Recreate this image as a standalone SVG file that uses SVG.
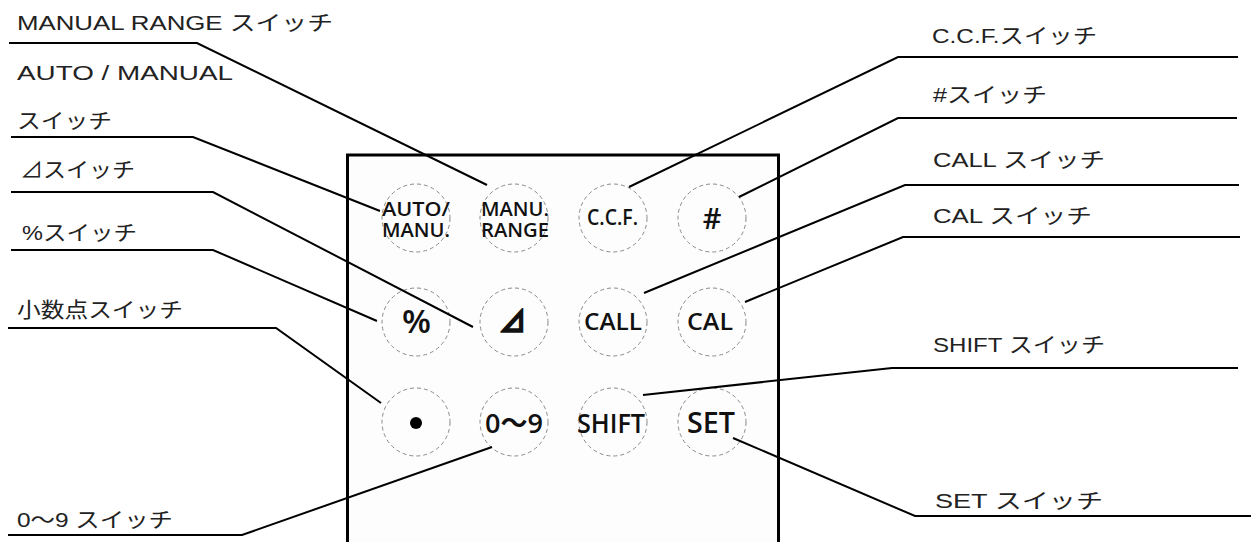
<svg xmlns="http://www.w3.org/2000/svg" width="1251" height="542" viewBox="0 0 1251 542">
<style>
.lbl{font-family:"Liberation Sans","Noto Sans CJK JP",sans-serif;font-size:21px;fill:#222}
.key{font-family:"Open Sans","Noto Sans CJK JP",sans-serif;font-weight:600;fill:#111}
.ring{fill:none;stroke:#8a8a8a;stroke-width:1;stroke-dasharray:4 3}
.con{fill:none;stroke:#000;stroke-width:2}
</style>
<rect width="1251" height="542" fill="#fff"/>
<g id="panel">
<rect x="347.5" y="155" width="431" height="400" fill="#fdfdfd" stroke="#000" stroke-width="3"/>
</g>
<g id="btn-auto-manu"><circle class="ring" cx="416" cy="218" r="34"/>
<text class="key" font-size="20"><tspan x="382" y="216" textLength="68" lengthAdjust="spacingAndGlyphs">AUTO/</tspan><tspan x="382" y="237" textLength="68" lengthAdjust="spacingAndGlyphs">MANU.</tspan></text></g>
<g id="btn-manu-range"><circle class="ring" cx="514" cy="218" r="34"/>
<text class="key" font-size="20"><tspan x="481" y="216" textLength="68" lengthAdjust="spacingAndGlyphs">MANU.</tspan><tspan x="481" y="237" textLength="68" lengthAdjust="spacingAndGlyphs">RANGE</tspan></text></g>
<g id="btn-ccf"><circle class="ring" cx="613" cy="218" r="34"/>
<text class="key" x="587" y="225" font-size="21" textLength="51" lengthAdjust="spacingAndGlyphs">C.C.F.</text></g>
<g id="btn-hash"><circle class="ring" cx="712" cy="218" r="34"/>
<text class="key" x="712" y="229" font-size="29" text-anchor="middle">#</text></g>
<g id="btn-percent"><circle class="ring" cx="416" cy="322" r="34"/>
<text class="key" x="402" y="333" font-size="33" textLength="29" lengthAdjust="spacingAndGlyphs">%</text></g>
<g id="btn-delta"><circle class="ring" cx="514" cy="322" r="34"/>
<text class="key" x="499" y="332" font-size="28" font-family="DejaVu Sans" font-weight="700" stroke="#111" stroke-width="1.6" textLength="27" lengthAdjust="spacingAndGlyphs">⊿</text></g>
<g id="btn-call"><circle class="ring" cx="613" cy="322" r="34"/>
<text class="key" x="584" y="330" font-size="23" textLength="58" lengthAdjust="spacingAndGlyphs">CALL</text></g>
<g id="btn-cal"><circle class="ring" cx="712" cy="322" r="34"/>
<text class="key" x="687" y="330" font-size="23" textLength="46" lengthAdjust="spacingAndGlyphs">CAL</text></g>
<g id="btn-dot"><circle class="ring" cx="416" cy="422" r="34"/>
<circle cx="416" cy="423" r="6" fill="#000"/></g>
<g id="btn-digits"><circle class="ring" cx="514" cy="422" r="34"/>
<text class="key" x="485" y="433" font-size="27" textLength="58" lengthAdjust="spacingAndGlyphs">0〜9</text></g>
<g id="btn-shift"><circle class="ring" cx="613" cy="422" r="34"/>
<text class="key" x="577" y="433" font-size="27" textLength="68" lengthAdjust="spacingAndGlyphs">SHIFT</text></g>
<g id="btn-set"><circle class="ring" cx="712" cy="422" r="34"/>
<text class="key" x="687" y="433" font-size="29" textLength="48" lengthAdjust="spacingAndGlyphs">SET</text></g>
<g id="connectors">
<polyline class="con" points="9,43 197,43 487,185"/>
<polyline class="con" points="11,137 193,137 380,211"/>
<polyline class="con" points="11,192 213,192 473,327"/>
<polyline class="con" points="11,250 213,250 377,321"/>
<polyline class="con" points="8,328 276,328 381,403"/>
<polyline class="con" points="8,535 242,535 492,447"/>
<polyline class="con" points="1238,57 898,57 629,187"/>
<polyline class="con" points="1237,118 898,118 739,197"/>
<polyline class="con" points="1239,185 905,185 644,293"/>
<polyline class="con" points="1240,237 903,237 745,302"/>
<polyline class="con" points="1238,368 892,368 643,395"/>
<polyline class="con" points="1251,516 915,516 733,438"/>
</g>
<g id="lbl-manual-range"><text class="lbl" x="17" y="30" textLength="316" lengthAdjust="spacingAndGlyphs">MANUAL RANGE スイッチ</text></g>
<g id="lbl-auto-manual"><text class="lbl" x="17" y="80" textLength="216" lengthAdjust="spacingAndGlyphs">AUTO / MANUAL</text>
<text class="lbl" x="17" y="128" textLength="95" lengthAdjust="spacingAndGlyphs">スイッチ</text></g>
<g id="lbl-delta"><text class="lbl" x="20" y="177" textLength="115" lengthAdjust="spacingAndGlyphs">⊿スイッチ</text></g>
<g id="lbl-percent"><text class="lbl" x="22" y="240" textLength="115" lengthAdjust="spacingAndGlyphs">%スイッチ</text></g>
<g id="lbl-dot"><text class="lbl" x="17" y="317" textLength="166" lengthAdjust="spacingAndGlyphs">小数点スイッチ</text></g>
<g id="lbl-digits"><text class="lbl" x="17" y="527" textLength="156" lengthAdjust="spacingAndGlyphs">0〜9 スイッチ</text></g>
<g id="lbl-ccf"><text class="lbl" x="932" y="43" textLength="165" lengthAdjust="spacingAndGlyphs">C.C.F.スイッチ</text></g>
<g id="lbl-hash"><text class="lbl" x="933" y="102" textLength="114" lengthAdjust="spacingAndGlyphs">#スイッチ</text></g>
<g id="lbl-call"><text class="lbl" x="933" y="167" textLength="172" lengthAdjust="spacingAndGlyphs">CALL スイッチ</text></g>
<g id="lbl-cal"><text class="lbl" x="933" y="223" textLength="159" lengthAdjust="spacingAndGlyphs">CAL スイッチ</text></g>
<g id="lbl-shift"><text class="lbl" x="933" y="352" textLength="172" lengthAdjust="spacingAndGlyphs">SHIFT スイッチ</text></g>
<g id="lbl-set"><text class="lbl" x="935" y="508" textLength="168" lengthAdjust="spacingAndGlyphs">SET スイッチ</text></g>
</svg>
